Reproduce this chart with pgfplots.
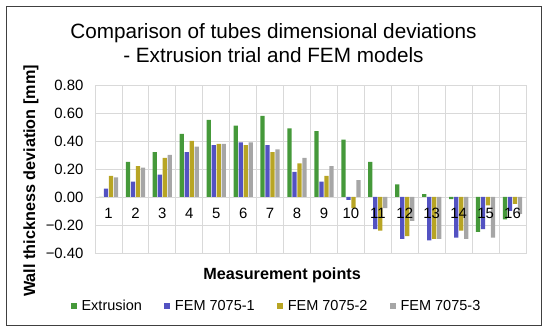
\documentclass[border=0pt]{standalone}
\usepackage{fontspec}
\setmainfont{Liberation Sans}
\usepackage{pgfplots}
\pgfplotsset{compat=1.18}
\definecolor{cext}{HTML}{45993A}
\definecolor{cf1}{HTML}{5352C2}
\definecolor{cf2}{HTML}{B8A524}
\definecolor{cf3}{HTML}{A6A6A6}
\definecolor{gridc}{HTML}{D9D9D9}
\pgfplotsset{sq/.style={legend image code/.code={\fill[##1] (0pt,-3pt) rectangle (6pt,3pt);}}}
\begin{document}
\begin{tikzpicture}
\begin{axis}[name=ax, clip=false,
  scale only axis, width=431pt, height=168pt,
  xmin=0.5, xmax=16.5, ymin=-0.4, ymax=0.8,
  ybar=0.7pt, bar width=4.3pt,
  xtick={1,2,3,4,5,6,7,8,9,10,11,12,13,14,15,16},
  xticklabels={},
  minor xtick={0.5,1.5,2.5,3.5,4.5,5.5,6.5,7.5,8.5,9.5,10.5,11.5,12.5,13.5,14.5,15.5,16.5},
  xminorgrids, ymajorgrids,
  ytick={-0.4,-0.2,0,0.2,0.4,0.6,0.8},
  yticklabels={−0.40,−0.20,0.00,0.20,0.40,0.60,0.80},
  major tick length=0pt, minor tick length=0pt,
  grid style={gridc, line width=0.8pt},
  minor grid style={gridc, line width=0.8pt},
  axis line style={gridc, line width=0.8pt},
  tick label style={font=\fontsize{14.9}{16}\selectfont},
  yticklabel style={xshift=-8pt},
  title={Comparison of tubes dimensional deviations\\- Extrusion trial and FEM models},
  title style={align=center, font=\fontsize{20.7}{24.5}\selectfont, at={(0.414,1)}, anchor=south, inner sep=0pt, yshift=16pt},
  xlabel={Measurement points},
  ylabel={Wall thickness deviation [mm]},
  x label style={font=\bfseries\fontsize{16.2}{18}\selectfont, at={(axis description cs:0.434,-0.131)}, anchor=center},
  y label style={font=\bfseries\fontsize{16.2}{18}\selectfont, at={(axis description cs:-0.1485,0.4286)}, anchor=center},
  legend columns=4,
  legend style={draw=none, fill=none, at={(0.421,-0.318)}, anchor=center,
    font=\fontsize{14.5}{16}\selectfont,
    /tikz/every even column/.append style={column sep=20pt},
    /tikz/every odd column/.append style={column sep=3pt}},
]
\addplot[fill=cext, draw=none, sq] coordinates {(1,0) (2,0.25) (3,0.32) (4,0.45) (5,0.55) (6,0.51) (7,0.58) (8,0.49) (9,0.47) (10,0.41) (11,0.25) (12,0.09) (13,0.02) (14,-0.015) (15,-0.25) (16,-0.16)};
\addplot[fill=cf1, draw=none, sq] coordinates {(1,0.06) (2,0.11) (3,0.16) (4,0.32) (5,0.37) (6,0.39) (7,0.37) (8,0.18) (9,0.11) (10,-0.02) (11,-0.23) (12,-0.30) (13,-0.31) (14,-0.29) (15,-0.23) (16,-0.10)};
\addplot[fill=cf2, draw=none, sq] coordinates {(1,0.15) (2,0.22) (3,0.28) (4,0.40) (5,0.38) (6,0.37) (7,0.32) (8,0.24) (9,0.15) (10,-0.08) (11,-0.24) (12,-0.28) (13,-0.30) (14,-0.24) (15,-0.06) (16,-0.05)};
\addplot[fill=cf3, draw=none, sq] coordinates {(1,0.14) (2,0.21) (3,0.30) (4,0.36) (5,0.38) (6,0.39) (7,0.34) (8,0.28) (9,0.22) (10,0.12) (11,-0.08) (12,-0.17) (13,-0.30) (14,-0.30) (15,-0.29) (16,-0.12)};
\legend{Extrusion, FEM 7075-1, FEM 7075-2, FEM 7075-3}
\pgfplotsinvokeforeach{1,...,16}{\node[anchor=north, inner sep=0pt, yshift=-11pt, font=\fontsize{14.9}{16}\selectfont] at (axis cs:#1,0) {#1};}
\end{axis}
\draw[line width=1pt, black!75] ([shift={(-88pt,-73pt)}]ax.south west) rectangle ([shift={(446pt,246pt)}]ax.south west);
\path ([shift={(-95pt,-81pt)}]ax.south west) rectangle ([shift={(455pt,253pt)}]ax.south west);
\end{tikzpicture}
\end{document}
